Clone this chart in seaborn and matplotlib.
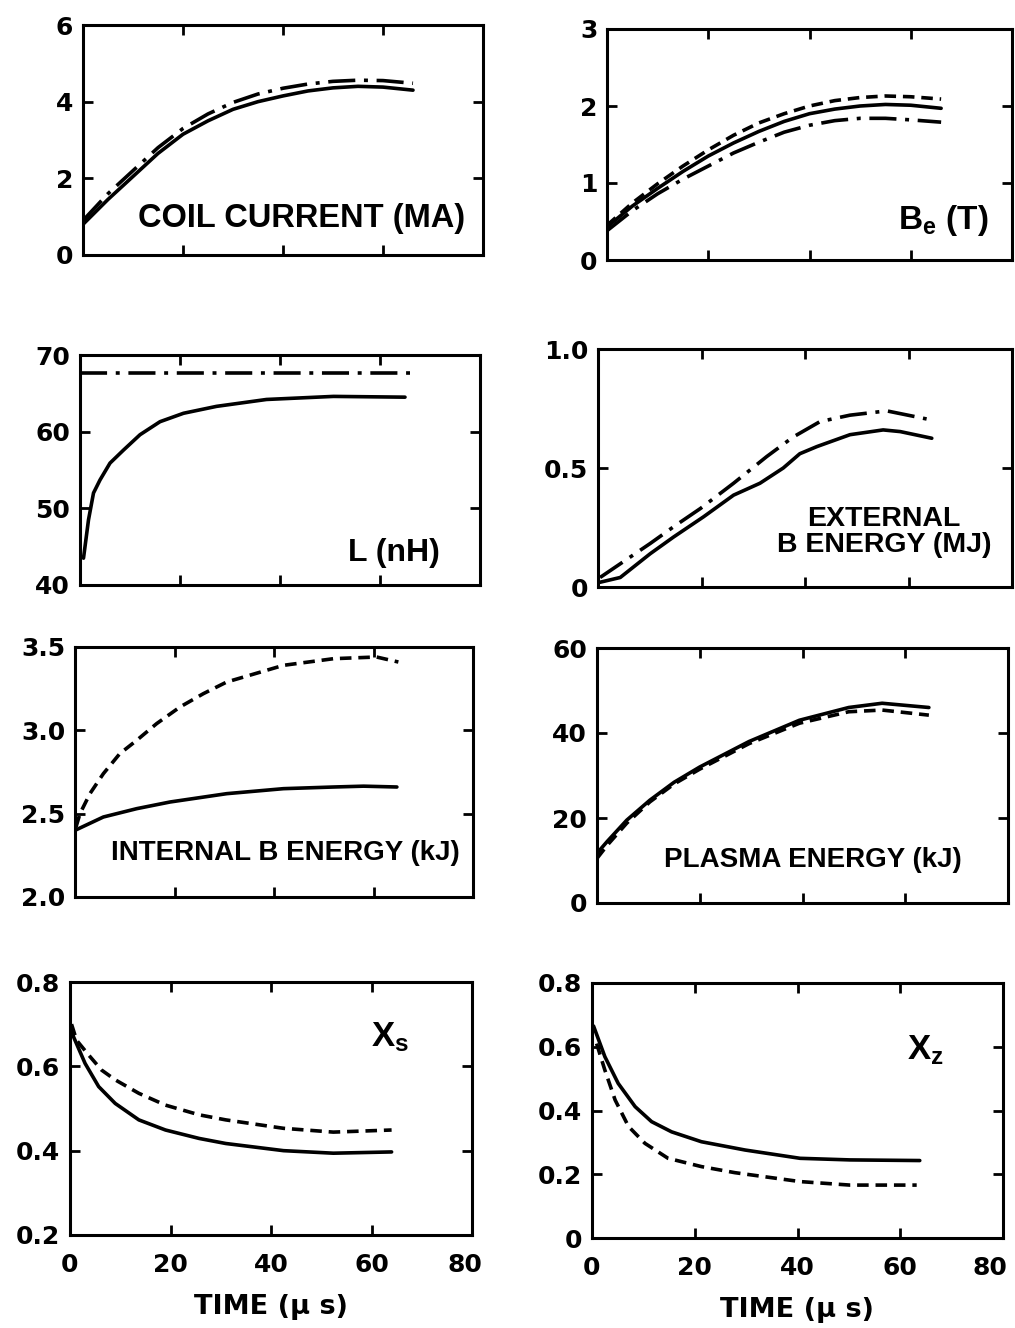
import matplotlib
matplotlib.use("Agg")
import matplotlib.pyplot as plt
from matplotlib.transforms import ScaledTranslation
import pandas as pd
import seaborn as sns

# ---------------- data (time in microseconds) ----------------
# coil current (MA)
coil_t = [0, 5, 10, 15, 20, 25, 30, 35, 40, 45, 50, 55, 60, 66]
coil_solid = [0.8, 1.45, 2.05, 2.65, 3.15, 3.5, 3.8, 4.0, 4.15, 4.28, 4.36, 4.4, 4.38, 4.3]
coil_dashdot = [0.9, 1.6, 2.2, 2.8, 3.3, 3.68, 3.98, 4.2, 4.35, 4.46, 4.53, 4.56, 4.55, 4.48]

# external field B_e (T)
be_t = [0, 5, 10, 15, 20, 25, 30, 35, 40, 45, 50, 55, 60, 66]
be_solid = [0.43, 0.7, 0.93, 1.15, 1.35, 1.52, 1.67, 1.8, 1.9, 1.96, 2.0, 2.02, 2.01, 1.97]
be_dashed = [0.45, 0.74, 0.99, 1.22, 1.43, 1.62, 1.78, 1.9, 2.0, 2.07, 2.11, 2.13, 2.12, 2.09]
be_dashdot = [0.38, 0.64, 0.86, 1.05, 1.22, 1.39, 1.53, 1.66, 1.75, 1.81, 1.84, 1.84, 1.82, 1.79]

# inductance L (nH)
ind_t = [0.7, 1.7, 2.7, 4, 6, 8.7, 12, 16, 20.7, 27.3, 37.3, 50.7, 65]
ind_solid = [43.5, 48.5, 52.0, 53.7, 55.9, 57.6, 59.6, 61.3, 62.4, 63.3, 64.2, 64.6, 64.5]
ind_dd_t = [0, 66]
ind_dashdot = [67.6, 67.6]

# external B energy (MJ)
ext_t = [0.4, 4.3, 10.1, 14.6, 20.4, 26.2, 31.3, 35.8, 39, 42.3, 48.7, 55.1, 58.4, 64.5]
ext_solid = [0.02, 0.04, 0.14, 0.21, 0.295, 0.386, 0.436, 0.5, 0.56, 0.59, 0.64, 0.66, 0.653, 0.625]
ext_dd_t = [0.4, 10.1, 14.6, 19.8, 26.2, 32.6, 37.7, 42.9, 48.7, 55.8, 63.5]
ext_dashdot = [0.04, 0.183, 0.253, 0.33, 0.436, 0.548, 0.63, 0.695, 0.722, 0.74, 0.706]

# internal B energy (kJ)
int_t = [0, 5.7, 12.4, 19.1, 30.5, 41.9, 52, 58, 64.7]
int_solid = [2.40, 2.48, 2.53, 2.57, 2.62, 2.65, 2.66, 2.665, 2.66]
int_d_t = [0.2, 1, 3, 5.7, 9, 12.4, 16.4, 21.1, 25.8, 30.5, 41.9, 52, 60.6, 65]
int_dashed = [2.42, 2.50, 2.62, 2.74, 2.86, 2.94, 3.04, 3.14, 3.22, 3.29, 3.39, 3.43, 3.44, 3.41]

# plasma energy (kJ)
pla_t = [0, 2, 5.8, 10.3, 15, 20, 29.6, 39.4, 49, 55.5, 64.6]
pla_solid = [11.7, 14.5, 19.5, 24.2, 28.4, 32, 38, 43, 46, 47, 46]
pla_dashed = [10.5, 13.6, 18.8, 23.8, 28.0, 31.5, 37.5, 42.3, 45, 45.4, 44.2]

# X_s
xs_t = [0.3, 0.7, 3, 5.7, 9, 13.7, 19, 25.7, 31, 42.5, 52.4, 64]
xs_solid = [0.69, 0.67, 0.607, 0.552, 0.512, 0.473, 0.449, 0.429, 0.417, 0.40, 0.394, 0.397]
xs_d_t = [0.3, 1.3, 3.7, 6.3, 9, 13.7, 19, 25.7, 31, 42.5, 52.4, 64]
xs_dashed = [0.70, 0.662, 0.627, 0.591, 0.568, 0.536, 0.508, 0.485, 0.473, 0.453, 0.444, 0.449]

# X_z
xz_t = [0.3, 2.5, 5.1, 8.4, 11.6, 15.5, 21.3, 29.8, 40.5, 50.2, 63.8]
xz_solid = [0.665, 0.569, 0.485, 0.412, 0.365, 0.333, 0.302, 0.276, 0.25, 0.245, 0.243]
xz_d_t = [0.9, 2.5, 4.5, 7.1, 10.3, 14.8, 21.3, 27.8, 40.5, 50.2, 63.2]
xz_dashed = [0.61, 0.527, 0.433, 0.35, 0.297, 0.25, 0.224, 0.205, 0.177, 0.166, 0.166]

x_ticks = [0, 20, 40, 60, 80]
x_ticklabels = ["0", "20", "40", "60", "80"]

# ---------------- style ----------------
sns.set_theme(style="ticks")
plt.rcParams["font.family"] = ["Liberation Sans", "DejaVu Sans"]
plt.rcParams["font.weight"] = "bold"
plt.rcParams["mathtext.fontset"] = "custom"
plt.rcParams["mathtext.rm"] = "Liberation Sans:bold"
plt.rcParams["mathtext.it"] = "Liberation Sans:bold"
plt.rcParams["mathtext.bf"] = "Liberation Sans:bold"

TICK_FONT = ["DejaVu Sans"]
LABEL_FONT = ["Liberation Sans", "DejaVu Sans"]

W, H = 1015, 1328
fig = plt.figure(figsize=(W / 100, H / 100), dpi=100)
fig.patch.set_facecolor("white")


def box(x0, y0, x1, y1):
    return [x0 / W, 1 - y1 / H, (x1 - x0) / W, (y1 - y0) / H]


DASHES = {"solid": "", "dashed": (3.2, 1.9), "dashdot": (7.5, 2.4, 1.1, 2.4)}


def frame(series):
    parts = []
    for name, t, v in series:
        parts.append(pd.DataFrame({"t": t, "value": v, "run": name}))
    return pd.concat(parts, ignore_index=True)


panels = [
    dict(pos=(83, 25, 483, 255), ylim=(0, 6), yt=[0, 2, 4, 6], ytl=["0", "2", "4", "6"],
         series=[("solid", coil_t, coil_solid), ("dashdot", coil_t, coil_dashdot)],
         label="COIL CURRENT (MA)", lxy=(465, 218), ha="right", lsize=23.5),
    dict(pos=(607, 29, 1012, 260), ylim=(0, 3), yt=[0, 1, 2, 3], ytl=["0", "1", "2", "3"],
         series=[("solid", be_t, be_solid), ("dashed", be_t, be_dashed),
                 ("dashdot", be_t, be_dashdot)],
         label=r"B$_{e}$ (T)", lxy=(988, 220), ha="right", lsize=24),
    dict(pos=(80, 355, 480, 585), ylim=(40, 70), yt=[40, 50, 60, 70],
         ytl=["40", "50", "60", "70"],
         series=[("solid", ind_t, ind_solid), ("dashdot", ind_dd_t, ind_dashdot)],
         label="L (nH)", lxy=(440, 553), ha="right", lsize=23),
    dict(pos=(598, 349, 1012, 587), ylim=(0, 1.0), yt=[0, 0.5, 1.0],
         ytl=["0", "0.5", "1.0"],
         series=[("solid", ext_t, ext_solid), ("dashdot", ext_dd_t, ext_dashdot)],
         label="EXTERNAL\nB ENERGY (MJ)", lxy=(884, 532), ha="center", lsize=20.5),
    dict(pos=(75, 647, 473, 897), ylim=(2.0, 3.5), yt=[2.0, 2.5, 3.0, 3.5],
         ytl=["2.0", "2.5", "3.0", "3.5"],
         series=[("solid", int_t, int_solid), ("dashed", int_d_t, int_dashed)],
         label="INTERNAL B ENERGY (kJ)", lxy=(460, 853), ha="right", lsize=20),
    dict(pos=(597, 648, 1008, 903), ylim=(0, 60), yt=[0, 20, 40, 60],
         ytl=["0", "20", "40", "60"],
         series=[("solid", pla_t, pla_solid), ("dashed", pla_t, pla_dashed)],
         label="PLASMA ENERGY (kJ)", lxy=(962, 860), ha="right", lsize=20),
    dict(pos=(70, 982, 472, 1235), ylim=(0.2, 0.8), yt=[0.2, 0.4, 0.6, 0.8],
         ytl=["0.2", "0.4", "0.6", "0.8"],
         series=[("solid", xs_t, xs_solid), ("dashed", xs_d_t, xs_dashed)],
         label=r"X$_{s}$", lxy=(409, 1037), ha="right", lsize=25,
         bottom=True, last_shift=-7),
    dict(pos=(592, 983, 1003, 1238), ylim=(0, 0.8), yt=[0, 0.2, 0.4, 0.6, 0.8],
         ytl=["0", "0.2", "0.4", "0.6", "0.8"],
         series=[("solid", xz_t, xz_solid), ("dashed", xz_d_t, xz_dashed)],
         label=r"X$_{z}$", lxy=(944, 1050), ha="right", lsize=25,
         bottom=True, last_shift=-13),
]

for p in panels:
    ax = fig.add_axes(box(*p["pos"]))
    ax.set_facecolor("white")
    df = frame(p["series"])
    sns.lineplot(data=df, x="t", y="value", style="run", dashes=DASHES,
                 color="black", linewidth=2.6, estimator=None, sort=False,
                 legend=False, ax=ax)
    ax.set_xlim(0, 80)
    ax.set_ylim(*p["ylim"])
    ax.set_xticks(x_ticks)
    ax.set_yticks(p["yt"])
    ax.set_yticklabels(p["ytl"])
    is_bottom = p.get("bottom", False)
    if is_bottom:
        ax.set_xticklabels(x_ticklabels)
        ax.set_xlabel("TIME (\u03bc s)", fontsize=19.5, fontweight="bold",
                      family=TICK_FONT, color="black", labelpad=12)
    else:
        ax.set_xticklabels([])
        ax.set_xlabel("")
    ax.set_ylabel("")
    ax.tick_params(axis="both", direction="in", length=7, width=2,
                   top=True, right=True, labelsize=18, colors="black")
    ax.tick_params(axis="y", pad=7)
    ax.tick_params(axis="x", pad=13, labelbottom=is_bottom)
    for lab in ax.get_xticklabels() + ax.get_yticklabels():
        lab.set_fontweight("bold")
        lab.set_family(TICK_FONT)
    if is_bottom:
        last = ax.get_xticklabels()[-1]
        last.set_transform(last.get_transform() +
                           ScaledTranslation(p["last_shift"] / 100, 0,
                                             fig.dpi_scale_trans))
    for sp in ax.spines.values():
        sp.set_visible(True)
        sp.set_linewidth(2.2)
        sp.set_color("black")
    lx, ly = p["lxy"]
    fig.text(lx / W, 1 - ly / H, p["label"], ha=p["ha"], va="center",
             fontsize=p["lsize"], fontweight="bold", family=LABEL_FONT,
             color="black", multialignment="center", linespacing=1.0)

fig.savefig("out.png", dpi=100, facecolor="white")
